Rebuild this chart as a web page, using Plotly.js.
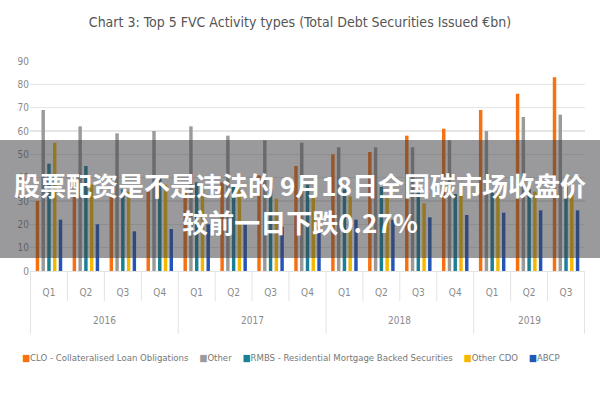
<!DOCTYPE html>
<html>
<head>
<meta charset="utf-8">
<script src="https://cdn.plot.ly/plotly-3.0.1.min.js"></script>
<style>
  html, body { margin: 0; padding: 0; background: #fff; }
  #wrap { position: relative; width: 600px; height: 400px; }
  #chart { width: 600px; height: 400px; }
  #banner {
    position: absolute; left: 0; top: 140px; width: 600px; height: 118px;
    background: rgba(62, 62, 68, 0.52);
    color: #fff; text-align: center;
    font-family: "Noto Sans CJK SC", sans-serif; font-weight: bold;
    font-size: 26px; line-height: 37px;
    padding-top: 26px; box-sizing: border-box;
  }
</style>
</head>
<body>
<div id="wrap">
  <div id="chart"></div>
  <div id="banner">股票配资是不是违法的 9月18日全国碳市场收盘价<br>较前一日下跌0.27%</div>
</div>
<script>
// quarters on the x axis
var years    = ['2016','2016','2016','2016','2017','2017','2017','2017','2018','2018','2018','2018','2019','2019','2019'];
var quarters = ['Q1','Q2','Q3','Q4','Q1','Q2','Q3','Q4','Q1','Q2','Q3','Q4','Q1','Q2','Q3'];

// €bn
var clo      = [30, 32, 33, 34, 34, 38, 41, 45, 50, 51, 58, 61, 69, 76, 83];
var other    = [69, 62, 59, 60, 62, 58, 56, 55, 53, 53, 53, 56, 60, 66, 67];
var rmbs     = [46, 45, 35, 40, 38, 37, 35, 37, 35, 36, 34, 33, 35, 35, 36];
var otherCdo = [55, 37, 34, 37, 35, 35, 31, 32, 32, 32, 29, 33, 34, 34, 33];
var abcp     = [22, 20, 17, 18, 20, 20, 19, 19, 22, 22, 23, 24, 25, 26, 26];

var names  = ['CLO - Collateralised Loan Obligations', 'Other',
              'RMBS - Residential Mortgage Backed Securities', 'Other CDO', 'ABCP'];
var series = [clo, other, rmbs, otherCdo, abcp];
var colors = ['#F8700F', '#9B9B9B', '#1B7F96', '#F5B800', '#2456B8'];

var font = '"Liberation Sans Narrow", "DejaVu Sans Condensed", "Open Sans", sans-serif';
var gridGrey = '#e3e3e3';

// one unique category per quarter, shown as Q1..Q4
var cats = years.map(function (y, i) { return y + ' ' + quarters[i]; });

var traces = [];
for (var i = 0; i < series.length; i++) {
    traces.push({
        type: 'bar',
        name: names[i],
        x: cats,
        y: series[i],
        marker: {color: colors[i]},
        hoverinfo: 'y+name'
    });
}

// divider lines under the axis: short between quarters, long between years
var shapes = [];
var annotations = [];
for (var b = 0; b <= cats.length; b++) {
    var yearEdge = (b === 0 || b === cats.length || years[b] !== years[b - 1]);
    shapes.push({
        type: 'line', xref: 'x', yref: 'paper',
        x0: b - 0.5, x1: b - 0.5, y0: 0, y1: yearEdge ? -0.3 : -0.143,
        line: {color: gridGrey, width: 1}
    });
}
// year labels centred under their quarters
var start = 0;
for (var k = 1; k <= years.length; k++) {
    if (k === years.length || years[k] !== years[start]) {
        annotations.push({
            xref: 'x', yref: 'paper',
            x: (start + k - 1) / 2, y: -0.235, yanchor: 'middle',
            text: years[start], showarrow: false,
            font: {family: font, size: 10, color: '#8a8a8a'}
        });
        start = k;
    }
}

// compact one-line legend like the original (small squares, tight spacing)
var legendText = names.map(function (n, i) {
    return '<span style="color:' + colors[i] + '">■</span>' + n;
}).join('&nbsp;&nbsp;&nbsp;&nbsp;');
annotations.push({
    xref: 'paper', yref: 'paper',
    x: 0.47, xanchor: 'center',
    y: -0.41, yanchor: 'middle',
    text: legendText, showarrow: false,
    font: {family: font, size: 9.5, color: '#777'}
});

var layout = {
    width: 600,
    height: 400,
    margin: {l: 30, r: 15, t: 61, b: 129},
    paper_bgcolor: '#fff',
    plot_bgcolor: '#fff',
    font: {family: font, color: '#8a8a8a', size: 10},
    title: {
        text: 'Chart 3: Top 5 FVC Activity types (Total Debt Securities Issued €bn)',
        font: {family: font, size: 14, color: '#555'},
        x: 0.5, xanchor: 'center',
        y: 0.945, yanchor: 'middle'
    },
    barmode: 'group',
    bargap: 0.22,
    bargroupgap: 0.4,
    xaxis: {
        type: 'category',
        tickvals: cats,
        ticktext: quarters,
        showgrid: false,
        showline: true,
        linecolor: gridGrey,
        ticks: 'outside',
        ticklen: 12,
        tickcolor: 'rgba(0,0,0,0)',
        tickfont: {size: 10, color: '#8a8a8a'}
    },
    yaxis: {
        range: [0, 90],
        dtick: 10,
        showline: false,
        zeroline: false,
        gridcolor: '#e6e6e6',
        gridwidth: 1.5,
        ticks: '',
        tickfont: {size: 10, color: '#8a8a8a'}
    },
    shapes: shapes,
    annotations: annotations,
    showlegend: false
};

Plotly.newPlot('chart', traces, layout, {displayModeBar: false, staticPlot: true});
</script>
</body>
</html>
